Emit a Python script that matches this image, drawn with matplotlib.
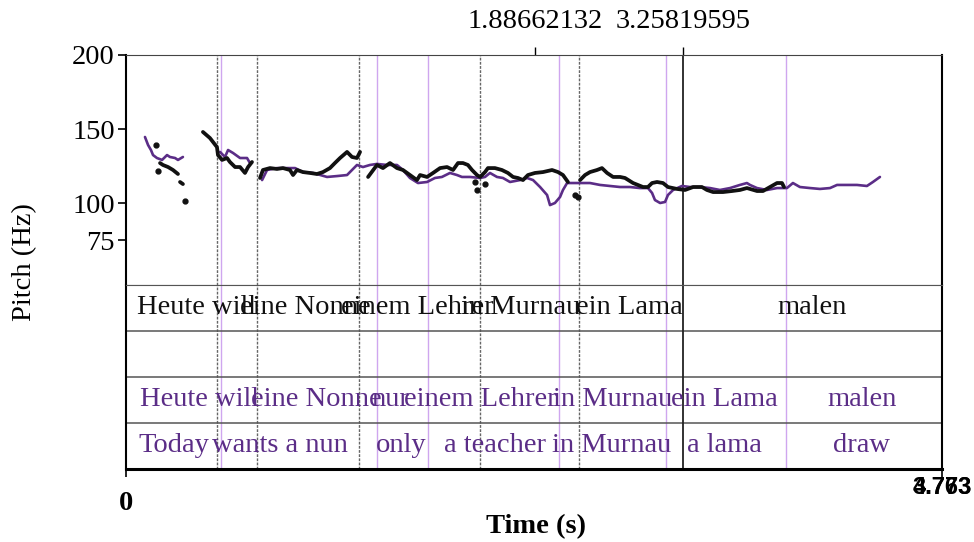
import numpy as np
import matplotlib
matplotlib.use("Agg")
import matplotlib.pyplot as plt

plt.rcParams['font.family'] = ['Liberation Serif', 'DejaVu Serif']

nan = np.nan

# ---- Pitch contours (time in s, pitch in Hz), nan = break ----
black_t = [0.199, 0.216, 0.246, 0.275, 0.304, nan,
           0.316, 0.333, nan,
           0.450, 0.491, 0.532, 0.538, 0.562, 0.591, 0.608, 0.638, 0.667, 0.696, 0.714, 0.737, nan,
           0.784, 0.801, 0.842, 0.883, 0.918, 0.959, 0.977, 1.000, 1.035, 1.076, 1.117, 1.152,
           1.193, 1.222, 1.252, 1.293, 1.322, 1.351, 1.369, nan,
           1.416, 1.468, 1.503, 1.544, 1.585, 1.620, 1.661, 1.702, 1.720, 1.761, 1.796, 1.837,
           1.878, 1.913, 1.942, 1.971, 2.000, 2.024, 2.053, 2.071, 2.100, 2.117, 2.158, 2.199,
           2.234, 2.264, 2.293, 2.322, 2.351, 2.392, 2.439, 2.492, 2.527, 2.556, 2.585, nan,
           2.656, 2.685, 2.714, 2.755, 2.784, 2.814, 2.849, 2.890, 2.919, 2.966, 3.024, 3.053,
           3.077, 3.106, 3.141, 3.170, 3.223, 3.270, 3.317, 3.369, 3.398, 3.434, 3.492, 3.545,
           3.591, 3.632, 3.691, 3.726, 3.767, 3.808, 3.837, 3.849]
black_hz = [127.0, 125.7, 124.3, 122.3, 119.6, nan,
            114.2, 112.8, nan,
            148.0, 143.9, 137.8, 132.4, 129.1, 130.4, 127.7, 124.3, 124.3, 120.3, 124.3, 127.7, nan,
            116.9, 122.3, 123.6, 123.0, 123.6, 122.3, 118.9, 122.3, 120.9, 120.3, 119.6, 120.9,
            123.6, 127.0, 130.4, 134.5, 131.1, 130.4, 134.5, nan,
            117.6, 125.7, 123.6, 127.0, 123.6, 122.3, 118.9, 115.5, 118.9, 117.6, 120.3, 123.6,
            124.3, 122.3, 127.0, 127.0, 125.7, 122.3, 118.9, 117.6, 120.9, 123.6, 123.6, 122.3,
            120.3, 117.6, 116.9, 115.5, 118.9, 120.3, 120.9, 122.3, 120.9, 118.9, 114.2, nan,
            115.5, 118.9, 120.9, 122.3, 123.6, 120.3, 117.6, 117.6, 116.9, 113.5, 110.8, 110.8,
            113.5, 114.2, 113.5, 110.8, 109.5, 108.8, 110.8, 110.8, 108.8, 107.4, 107.4, 108.1,
            108.8, 110.1, 108.1, 108.1, 110.8, 113.5, 113.5, 110.8]
black_dot_t = [0.175, 0.187, 0.345, 2.041, 2.053, 2.100, 2.626, 2.644]
black_dot_hz = [139.2, 121.6, 101.3, 114.2, 108.8, 112.8, 105.4, 104.1]

purple_t = [0.111, 0.129, 0.146, 0.158, 0.181, 0.211, 0.240, 0.257, 0.287, 0.304, 0.333, nan,
            0.550, 0.579, 0.597, 0.626, 0.667, 0.708, 0.725, nan,
            0.796, 0.825, 0.883, 0.942, 0.989, 1.035, 1.094, 1.176, 1.234, 1.293, 1.322, 1.351,
            1.386, 1.427, 1.468, 1.527, 1.585, 1.620, 1.661, 1.708, 1.761, 1.807, 1.848, 1.895,
            1.936, 1.965, 2.012, 2.071, 2.100, 2.129, 2.170, 2.205, 2.246, 2.305, 2.346, 2.381,
            2.422, 2.463, 2.480, 2.509, 2.539, 2.556, 2.580, 2.615, 2.673, 2.714, 2.773, 2.831,
            2.890, 2.948, 3.007, 3.053, 3.077, 3.094, 3.124, 3.153, 3.170, 3.200, 3.252, 3.299,
            3.357, 3.416, 3.474, 3.533, 3.591, 3.632, 3.650, 3.691, 3.749, 3.808, 3.866, 3.901,
            3.942, 4.001, 4.059, 4.118, 4.159, 4.217, 4.276, 4.334, 4.369, 4.410]
purple_hz = [144.6, 139.2, 135.8, 132.4, 130.4, 129.1, 132.4, 131.1, 130.4, 129.1, 131.1, nan,
             134.5, 131.1, 135.8, 133.8, 130.4, 130.4, 127.0, nan,
             115.5, 122.3, 123.6, 123.6, 123.6, 120.9, 120.3, 117.6, 118.2, 118.9, 122.3, 125.7,
             124.3, 125.7, 126.4, 125.7, 125.7, 122.3, 116.9, 113.5, 114.2, 116.9, 117.6, 120.3,
             118.9, 117.6, 117.6, 116.9, 117.6, 120.3, 117.6, 116.9, 114.2, 115.5, 116.9, 115.5,
             110.8, 105.4, 98.6, 100.0, 104.1, 108.8, 113.5, 113.5, 113.5, 113.5, 112.2, 111.5,
             110.8, 110.8, 110.1, 110.1, 106.8, 102.0, 100.0, 100.7, 105.4, 108.8, 111.5, 110.8,
             110.8, 110.1, 108.8, 110.1, 112.2, 113.5, 112.2, 110.1, 108.8, 110.1, 110.1, 113.5,
             110.8, 110.1, 109.5, 110.1, 112.2, 112.2, 112.2, 111.5, 114.2, 117.6]

# ---- TextGrid boundaries and labels ----
black_bounds = [0.532, 0.766, 1.363, 2.071, 2.650]
purple_bounds = [0.553, 1.466, 1.769, 2.530, 3.159, 3.860]
marker_t = [2.392, 3.258]
marker_labels = ['1.88662132', '3.25819595']

tier1_words = ['Heute will', 'eine Nonne', 'einem Lehrer', 'in Murnau', 'ein Lama', 'malen']
tier1_x = [0.415, 1.047, 1.702, 2.310, 2.942, 4.013]
tier3_words = ['Heute will', 'eine Nonne', 'nur', 'einem Lehrer', 'in Murnau', 'ein Lama', 'malen']
tier3_x = [0.427, 1.111, 1.544, 2.071, 2.849, 3.498, 4.305]
tier4_words = ['Today', 'wants a nun', 'only', 'a teacher', 'in Murnau', 'a lama', 'draw']
tier4_x = [0.281, 0.901, 1.609, 2.158, 2.843, 3.498, 4.305]

t_end = 4.773
purple = '#5b2d87'
fs = 20.5

fig = plt.figure(figsize=(9.74, 5.42), dpi=100)
ax_p = fig.add_axes([126/974, 1-285/542, 816/974, 230/542])
ax_t = fig.add_axes([126/974, 1-469/542, 816/974, 184/542])

# ---- pitch panel ----
ax_p.plot(purple_t, purple_hz, color=purple, lw=1.9, solid_capstyle='round', zorder=3)
ax_p.plot(black_t, black_hz, color='#111111', lw=2.7, solid_capstyle='round', zorder=4)
ax_p.plot(black_dot_t, black_dot_hz, 'o', color='#111111', ms=3.5, zorder=4)
ax_p.set_xlim(0, t_end)
ax_p.set_ylim(44.6, 200)
ax_p.set_yticks([75, 100, 150, 200])
ax_p.tick_params(axis='y', direction='out', length=6, width=1.2, pad=2, labelsize=fs)
ax_p.set_xticks([])
for s in ['left', 'right']:
    ax_p.spines[s].set_linewidth(1.5)
ax_p.spines['top'].set_color('#444444')
ax_p.spines['bottom'].set_color('#555555')

top = ax_p.secondary_xaxis('top')
top.set_xticks(marker_t, marker_labels)
top.tick_params(direction='out', length=6, width=1, pad=9, labelsize=fs)
top.spines['top'].set_visible(False)

# ---- tier panel ----
ax_t.set_xlim(0, t_end)
ax_t.set_ylim(4, 0)
for y in [1, 2, 3]:
    ax_t.axhline(y, color='#555555', lw=1.1)
ax_t.spines['bottom'].set_linewidth(2.2)
for s in ['left', 'right']:
    ax_t.spines[s].set_linewidth(1.5)
ax_t.spines['top'].set_color('#555555')
ax_t.set_yticks([])
ax_t.set_xticks([0, t_end], ['0', ''])
ax_t.tick_params(axis='x', direction='out', length=6, width=1.2, pad=10, labelsize=fs)
for lab in ax_t.get_xticklabels():
    lab.set_fontweight('bold')

for ax in (ax_p, ax_t):
    for b in black_bounds:
        ax.axvline(b, color='#666666', lw=1.0, ls=(0, (2, 1)), zorder=1)
    for b in purple_bounds:
        ax.axvline(b, color='#cfa6ef', lw=1.0, zorder=1)
    ax.axvline(marker_t[1], color='#222222', lw=1.3, zorder=2)

for x, w in zip(tier1_x, tier1_words):
    ax_t.text(x, 0.5, w, ha='center', va='center', fontsize=fs, color='#111111')
for x, w in zip(tier3_x, tier3_words):
    ax_t.text(x, 2.5, w, ha='center', va='center', fontsize=fs, color=purple)
for x, w in zip(tier4_x, tier4_words):
    ax_t.text(x, 3.5, w, ha='center', va='center', fontsize=fs, color=purple)

# end-time labels drawn on top of each other, as in the source picture
for s in ['4.763', '3.773']:
    ax_t.text(t_end, -0.098, s, transform=ax_t.get_xaxis_transform(), ha='center', va='center',
              fontsize=17, fontweight='bold', family=['Liberation Sans', 'DejaVu Sans'])

fig.text(25/974, 1-262/542, 'Pitch (Hz)', rotation=90, ha='center', va='center', fontsize=fs)
fig.text(536/974, 1-527/542, 'Time (s)', ha='center', va='center', fontsize=fs, fontweight='bold')

fig.savefig('out.png', dpi=100)
